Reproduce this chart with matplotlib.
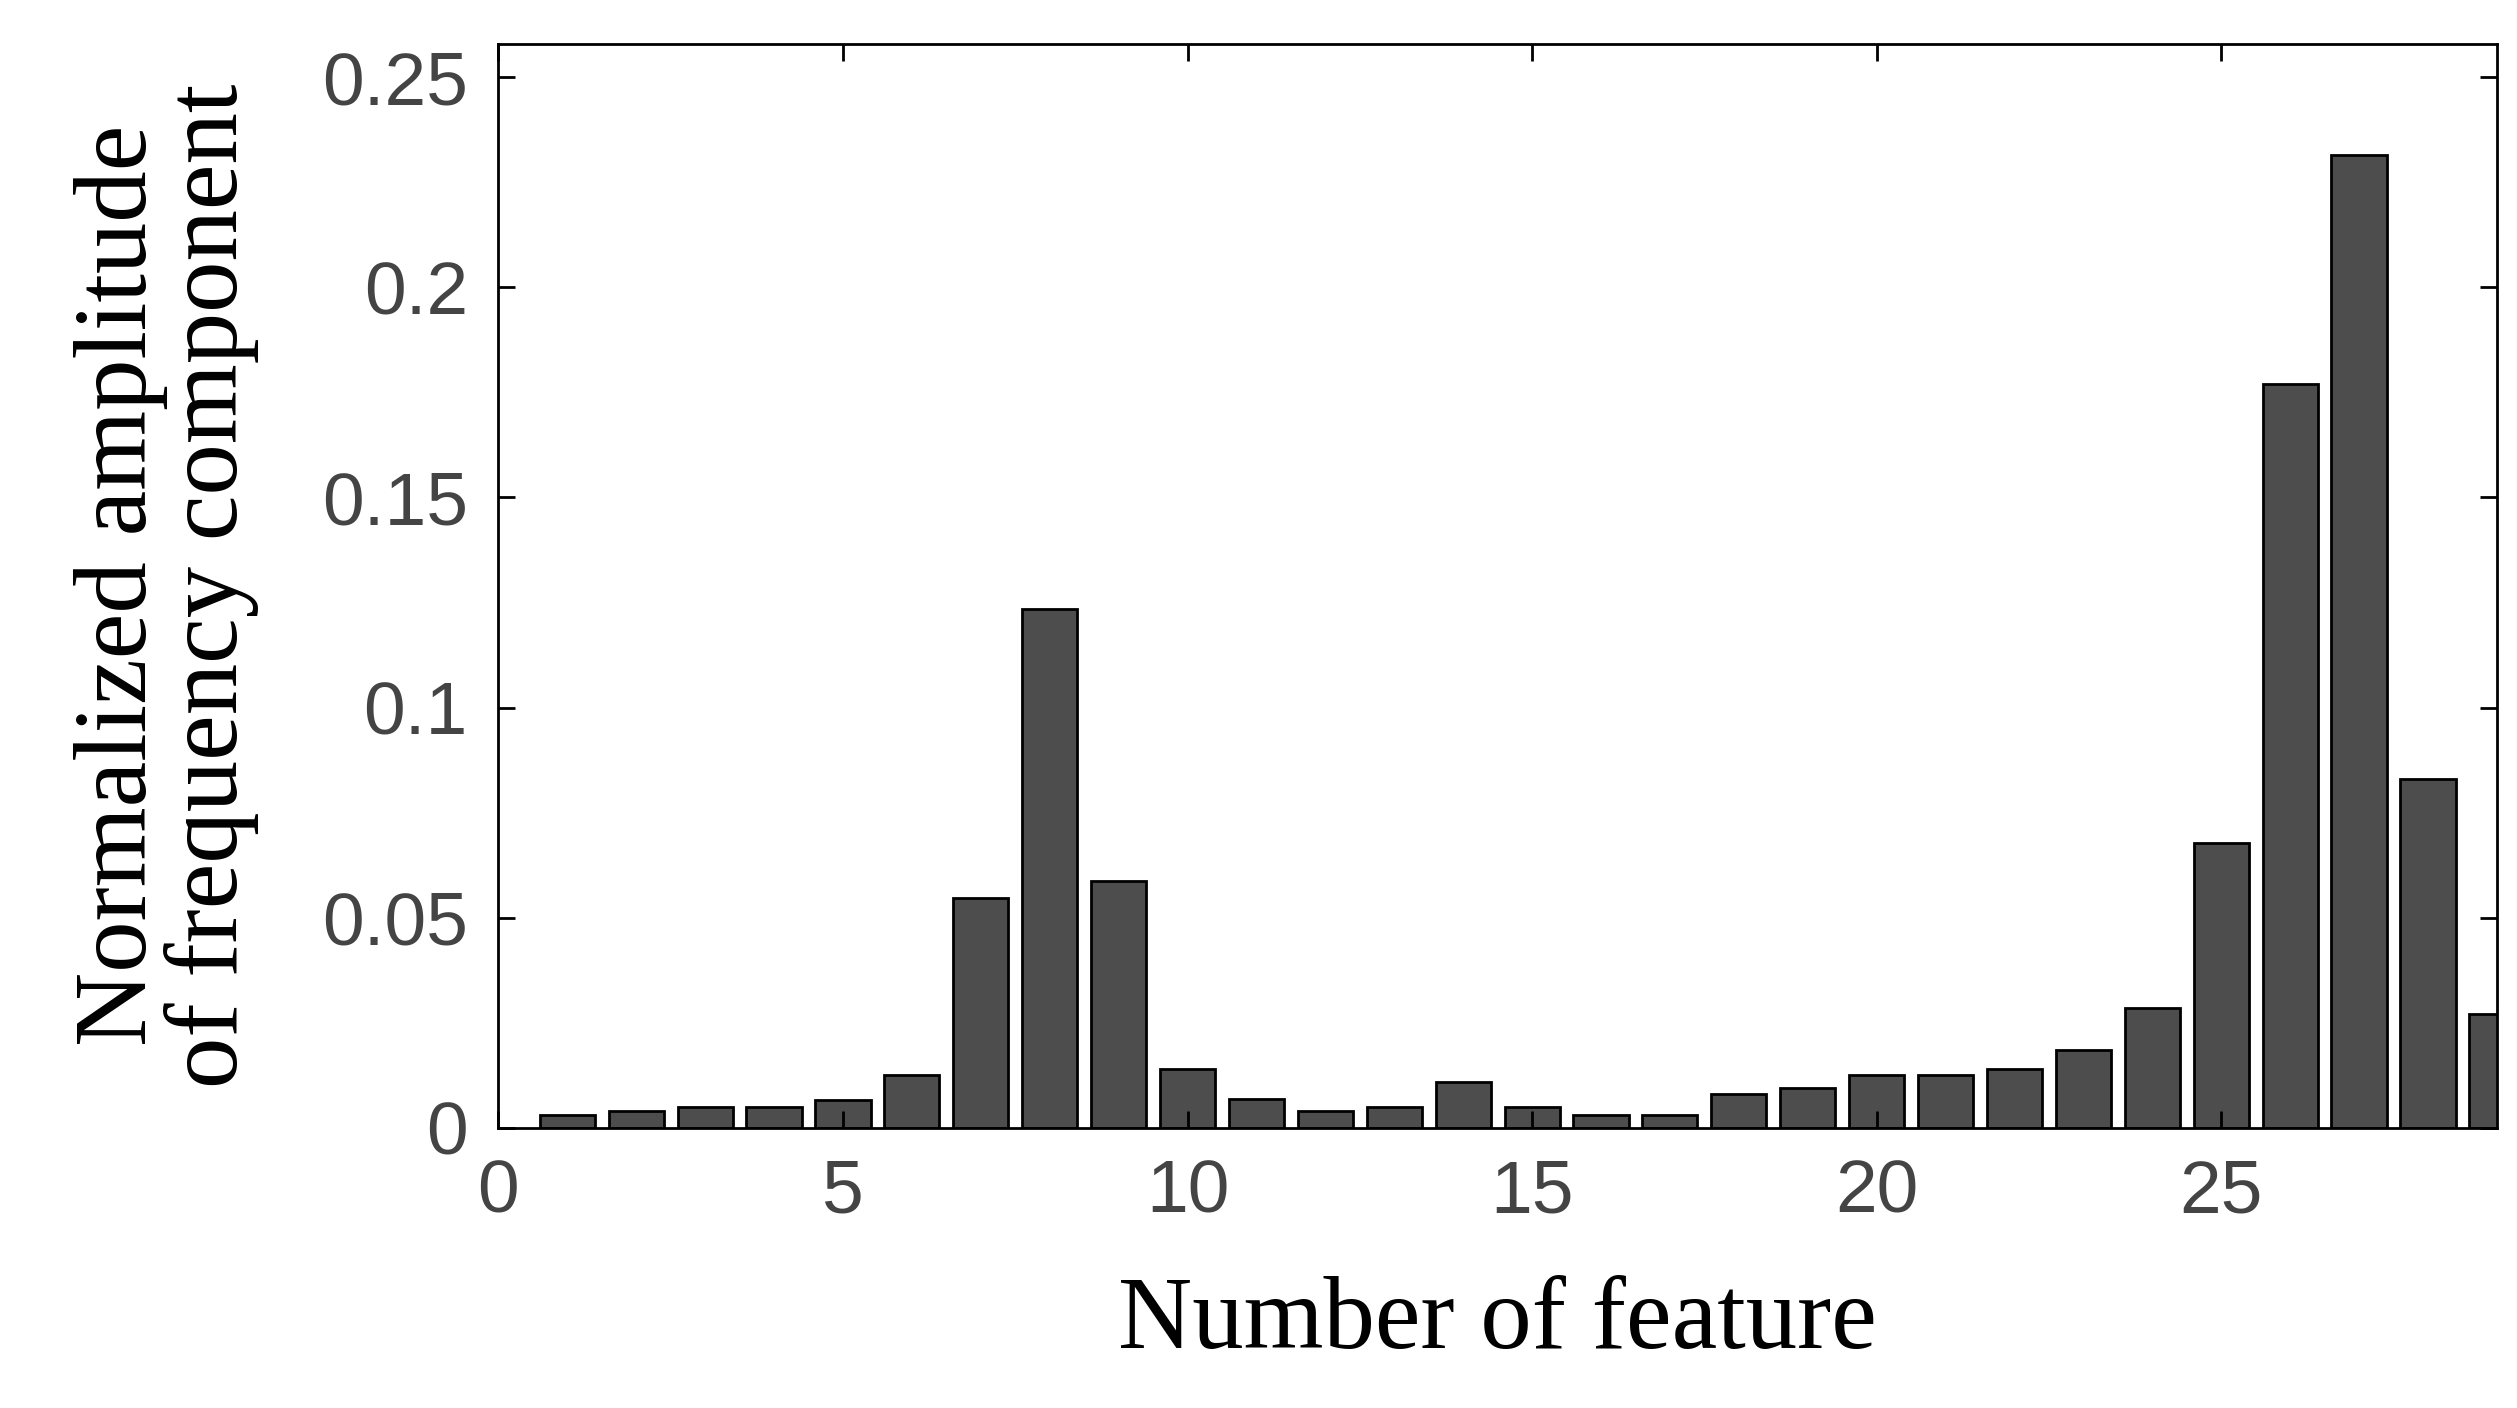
import numpy as np
import matplotlib.pyplot as plt

features = np.arange(1, 30)
amplitude = [0.003, 0.004, 0.005, 0.005, 0.0065, 0.0125, 0.0546, 0.1235, 0.0588,
             0.014, 0.0068, 0.004, 0.005, 0.011, 0.005, 0.003, 0.003, 0.008,
             0.0095, 0.0125, 0.0125, 0.014, 0.0185, 0.0285, 0.0677, 0.177,
             0.2315, 0.083, 0.027]
xticks = [0, 5, 10, 15, 20, 25]
yticks = [0, 0.05, 0.1, 0.15, 0.2, 0.25]
ytick_labels = ["0", "0.05", "0.1", "0.15", "0.2", "0.25"]

fig = plt.figure(figsize=(25.17, 14.08), dpi=100)
ax = fig.add_axes([0.198, 0.199, 0.794, 0.770])
ax.bar(features, amplitude, width=0.8, color="#4d4d4d", edgecolor="black", linewidth=2)
ax.set_xlim(0, 29)
ax.set_ylim(0, 0.258)
ax.set_xticks(xticks)
ax.set_yticks(yticks)
ax.set_yticklabels(ytick_labels)
ax.tick_params(direction="in", length=12, width=2, top=True, right=True,
               labelsize=54, labelcolor="#444444", pad=22)
for lab in ax.get_xticklabels() + ax.get_yticklabels():
    lab.set_family("Liberation Sans")
for s in ax.spines.values():
    s.set_linewidth(2)
ax.set_xlabel("Number of feature", family="Liberation Serif", fontsize=74, labelpad=35)
ax.set_ylabel("Normalized amplitude\nof frequency component", family="Liberation Serif",
              fontsize=74, labelpad=45, linespacing=0.95)
fig.savefig("out.png", dpi=100)
